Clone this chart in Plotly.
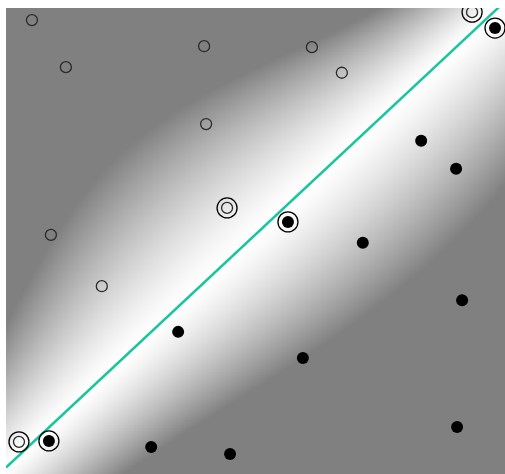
import numpy as np
import plotly.graph_objects as go

# ---- data (data units, axes 0..10) ----
open_x = [0.52, 1.20, 3.97, 6.13, 6.73, 4.01, 0.90, 1.92]
open_y = [9.74, 8.73, 9.18, 9.16, 8.61, 7.51, 5.13, 4.03]
open_sv_x = [9.34, 4.43, 0.26]
open_sv_y = [9.91, 5.71, 0.69]
filled_x = [8.32, 9.02, 7.15, 9.14, 3.45, 5.95, 2.91, 4.49, 9.04]
filled_y = [7.15, 6.55, 4.96, 3.73, 3.05, 2.49, 0.58, 0.43, 1.01]
filled_sv_x = [9.80, 5.65, 0.86]
filled_sv_y = [9.57, 5.41, 0.71]
boundary_slope = 1.0
boundary_intercept = 0.14

# ---- background shading: bright band around the boundary ----
N = 300
g = (np.arange(N) + 0.5) * 10.0 / N
X, Y = np.meshgrid(g, g)
d = (Y - boundary_slope * X - boundary_intercept) / np.sqrt(2)
t = (X + Y) / np.sqrt(2)
s_up = 1.0 + 2.15 * np.exp(-((t - 6.5) / 5.5) ** 2)
s_lo = 1.3 + 1.6 * np.exp(-((t - 9.5) / 7.0) ** 2)
s = np.where(d >= 0, s_up, s_lo)
u = np.clip(np.abs(d) / s, 0, 1)
Z = 128 + 127 * (1 - u ** 1.3)

fig = go.Figure()
fig.add_trace(go.Heatmap(
    x=g, y=g, z=Z, zmin=128, zmax=255,
    colorscale=[[0, "rgb(128,128,128)"], [1, "rgb(255,255,255)"]],
    showscale=False, hoverinfo="skip", zsmooth="best"))

lx = [0, 10]
ly = [boundary_slope * v + boundary_intercept for v in lx]
fig.add_trace(go.Scatter(x=lx, y=ly, mode="lines",
                         line=dict(color="#17c79b", width=2.5), showlegend=False))

ring = dict(symbol="circle-open", size=20, line=dict(width=1.3), color="black")
fig.add_trace(go.Scatter(x=open_sv_x + filled_sv_x, y=open_sv_y + filled_sv_y,
                         mode="markers", marker=ring, showlegend=False))
fig.add_trace(go.Scatter(x=open_x + open_sv_x, y=open_y + open_sv_y, mode="markers",
                         marker=dict(symbol="circle-open", size=11, color="#2a2a2a",
                                     line=dict(width=1.3)), showlegend=False))
fig.add_trace(go.Scatter(x=filled_x + filled_sv_x, y=filled_y + filled_sv_y, mode="markers",
                         marker=dict(symbol="circle", size=12, color="black",
                                     line=dict(width=0)), showlegend=False))

fig.update_layout(
    width=505, height=474,
    margin=dict(l=6, r=0, t=8, b=0),
    paper_bgcolor="white", plot_bgcolor="rgb(128,128,128)",
    xaxis=dict(range=[0, 10], visible=False, fixedrange=True),
    yaxis=dict(range=[0, 10], visible=False, fixedrange=True),
    showlegend=False,
)
fig.write_html("out.html", config={"displayModeBar": False},
               post_script="document.body.style.margin='0';document.body.style.overflow='hidden';")
